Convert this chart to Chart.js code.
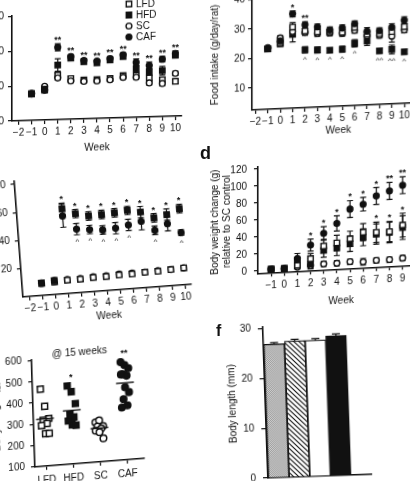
<!DOCTYPE html>
<html lang="en">

<head>
    <meta charset="UTF-8">
    <title>Diet groups: intake, weight gain and body size</title>
    <script src="https://cdn.jsdelivr.net/npm/chart.js"></script>
    <style>
        body {
            margin: 0;
            width: 410px;
            height: 481px;
            overflow: hidden;
            position: relative;
            background: #fff;
            font-family: "Liberation Sans", Arial, sans-serif;
        }

        canvas {
            position: absolute;
        }

        .tag {
            position: absolute;
            font-weight: bold;
            font-size: 18px;
            color: #111;
            z-index: 2;
        }
    </style>
</head>

<body>
    <canvas id="panelA" width="230" height="156"
        style="left:-40px;top:0px;transform-origin:52px 121px;transform:skewY(-1.7deg)"></canvas>
    <canvas id="panelB" width="225" height="156"
        style="left:205px;top:-16px;transform-origin:47px 126px;transform:skewY(-2.5deg)"></canvas>
    <canvas id="panelC" width="240" height="158"
        style="left:-40px;top:170px;transform-origin:63px 127px;transform:rotate(-4.3deg)"></canvas>
    <canvas id="panelD" width="225" height="161"
        style="left:205px;top:150px;transform-origin:53px 123px;transform:skewY(-3deg)"></canvas>
    <canvas id="panelE" width="180" height="160"
        style="left:-20px;top:330px;transform-origin:55px 137px;transform:rotate(-1.8deg) skewY(-2.7deg)"></canvas>
    <canvas id="panelF" width="180" height="186"
        style="left:220px;top:314px;transform-origin:48px 163px;transform:rotate(-2deg)"></canvas>
    <div class="tag" style="left:200px;top:143px">d</div>
    <div class="tag" style="left:216px;top:322px;font-size:16px">f</div>

    <script>
        // weeks on diet and groups
        const weeks = [-1, 0, 1, 2, 3, 4, 5, 6, 7, 8, 9, 10];
        const weekTicks = [-2, -1, 0, 1, 2, 3, 4, 5, 6, 7, 8, 9, 10];
        const groups = ['LFD', 'HFD', 'SC', 'CAF'];

        // a - energy intake
        const energyTicks = [0, 100, 200, 300];
        const energyLFD = [76, 86, 128, 117, 112, 112, 114, 121, 121, 112, 106, 100];
        const energyHFD = [77, 89, 157, 176, 164, 160, 167, 176, 140, 130, 132, 175];
        const energySC = [78, 97, 120, 110, 108, 108, 110, 116, 115, 98, 95, 123];
        const energyCAF = [76, 86, 208, 180, 168, 165, 171, 181, 158, 148, 165, 180];
        const energyErrLFD = [2, 3, 6, 5, 4, 4, 4, 5, 5, 6, 6, 6];
        const energyErrHFD = [2, 3, 18, 6, 5, 5, 5, 6, 10, 10, 12, 6];
        const energyErrSC = [2, 3, 6, 5, 4, 4, 4, 5, 5, 6, 6, 6];
        const energyErrCAF = [2, 3, 10, 6, 6, 5, 6, 6, 10, 10, 8, 8];
        const energyStars = ['', '', '**', '**', '**', '**', '**', '**', '**', '**', '**', '**'];

        // b - food intake (g/day/rat)
        const foodTicks = [10, 20, 30, 40];
        const foodLFD = [23, 24.8, 30, 28.5, 28, 27.8, 27.5, 29, 26.5, 26.5, 27, 28.5];
        const foodHFD = [23, 24.5, 27.5, 22.1, 21.9, 21.6, 21.8, 23.6, 24.2, 20.7, 21, 20];
        const foodSC = [23.4, 26.5, 28.5, 28, 27.5, 27.5, 27.2, 28, 26, 26, 25.5, 27.4];
        const foodCAF = [23.2, 25.5, 34.5, 30.6, 29.7, 28.5, 29, 30.2, 27.5, 27.5, 28.5, 30.7];
        const foodErrLFD = [0.6, 0.8, 1.5, 1, 1, 1, 1, 1, 1.2, 1, 1.2, 1];
        const foodErrHFD = [0.6, 0.8, 2.5, 1, 1, 0.8, 1, 1.2, 1.5, 0.8, 1.5, 0.8];
        const foodErrSC = [0.6, 0.8, 1.5, 1, 1, 1, 1, 1, 1.2, 1, 2, 1];
        const foodErrCAF = [0.6, 0.8, 1, 1, 1, 1, 1, 1, 1.2, 1, 1.2, 1.2];
        const foodStars = ['', '', '*', '**', '', '', '', '', '', '', '', ''];
        const foodCarets = ['', '', '', '^', '^', '^', '^', '^', '', '^^', '^^', '^'];

        // c
        const fatTicks = [20, 40, 60, 80];
        const fatLFD = [8.5, 9, 9.5, 9.5, 10, 10, 10.5, 10.5, 11, 11, 11.5, 12];
        const fatHFD = [9, 10, 60, 56, 53.6, 54, 54.5, 55.5, 53.6, 48.8, 50.5, 54];
        const fatSC = [8.5, 9, 10, 10, 10.5, 10.5, 11, 11, 11, 11.5, 11.5, 12];
        const fatCAF = [9, 10, 55, 45, 44, 43, 43.6, 45.2, 47, 40, 44, 37];
        const fatErrLFD = [0.5, 0.5, 1, 1, 1, 1, 1, 1, 1, 1, 1, 1];
        const fatErrHFD = [1, 1, 4, 3, 3, 3, 3, 3, 4, 3, 4, 3];
        const fatErrSC = [0.5, 0.5, 1, 1, 1, 1, 1, 1, 1, 1, 1, 1];
        const fatErrCAF = [1, 1, 8, 4, 3, 3, 4, 4, 6, 3, 5, 2];
        const fatStars = ['', '', '*', '*', '*', '*', '*', '*', '*', '*', '*', '*'];
        const fatCarets = ['', '', '', '^', '^', '^', '^', '^', '', '^', '', '^'];

        // d - body weight change relative to SC control (weeks -1 to 9)
        const gainTicks = [0, 20, 40, 60, 80, 100, 120];
        const gainWeekTicks = [-1, 0, 1, 2, 3, 4, 5, 6, 7, 8, 9, 10];
        const gainLFD = [1, 1, 4, 11, 25, 28, 32, 39, 38, 38, 45];
        const gainHFD = [1, 1, 8, 5, 20, 22, 26, 33, 36, 37, 42];
        const gainSC = [1, 1, 2, 3, 4, 4, 5, 4, 5, 5, 6];
        const gainCAF = [1, 1, 12, 27, 40, 51, 67, 72, 81, 86, 92];
        const gainErrLFD = [2, 2, 4, 6, 8, 9, 9, 10, 12, 12, 14];
        const gainErrHFD = [2, 2, 4, 6, 8, 9, 9, 10, 12, 12, 14];
        const gainErrSC = [1, 1, 2, 3, 3, 3, 3, 4, 3, 3, 3];
        const gainErrCAF = [2, 2, 6, 7, 8, 9, 10, 8, 10, 10, 10];
        const gainStarsCAF = ['', '', '', '*', '*', '*', '*', '*', '*', '**', '**'];
        const gainStarsLFD = ['', '', '', '', '', '', '', '', '*', '*', '*'];

        // e - body weight at 15 weeks, one value per rat
        const weightTicks = [100, 200, 300, 400, 500, 600];
        const weightLFD = [463, 380, 322, 315, 299, 291, 252, 252];
        const weightHFD = [468, 439, 382, 335, 319, 303, 284, 280];
        const weightSC = [286, 294, 266, 266, 255, 247, 239, 208];
        const weightCAF = [560, 545, 529, 502, 494, 502, 440, 416, 385, 354, 346];
        const weightStars = ['', '*', '', '**'];

        // f - body length
        const lengthTicks = [0, 10, 20, 30];
        const bodyLength = [26.8, 27.3, 27.3, 28.1];
        const bodyLengthErr = [0.3, 0.3, 0.3, 0.3];

        Chart.defaults.font.family = '"Liberation Sans", Arial, sans-serif';
        Chart.defaults.font.size = 10;
        Chart.defaults.color = '#111';
        Chart.defaults.animation = false;

        const ink = '#111';
        const looks = {
            LFD: { pointStyle: 'rect', pointRadius: 3.8, pointBackgroundColor: '#fff' },
            HFD: { pointStyle: 'rect', pointRadius: 3.8, pointBackgroundColor: ink },
            SC: { pointStyle: 'circle', pointRadius: 2.9, pointBackgroundColor: '#fff' },
            CAF: { pointStyle: 'circle', pointRadius: 2.9, pointBackgroundColor: ink }
        };

        function weekSeries(name, values, errors, extra) {
            return Object.assign({
                label: name,
                data: values.map((v, i) => ({ x: weeks[i], y: v })),
                errors: errors,
                pointBorderColor: ink,
                pointBorderWidth: 1.4
            }, looks[name], extra || {});
        }

        // outward ticks, no grid, fixed axis thickness so the plot lands where the figure has it
        function axis(o) {
            return {
                type: 'linear',
                offset: false,
                min: o.min,
                max: o.max,
                afterBuildTicks: s => { s.ticks = o.ticks.map(v => ({ value: v })); },
                afterFit: s => { if (s.isHorizontal()) s.height = o.size; else s.width = o.size; },
                grid: { display: o.marks !== false, offset: false, drawOnChartArea: false, tickLength: o.tick || 4, color: ink, lineWidth: 1.2 },
                border: { display: true, color: ink, width: 1.6 },
                ticks: {
                    display: o.labels !== false,
                    autoSkip: false,
                    maxRotation: 0,
                    padding: o.pad === undefined ? 2 : o.pad,
                    callback: o.fmt || (v => String(v).replace('-', '\u2212'))
                },
                title: {
                    display: !!o.title,
                    text: o.title || '',
                    padding: { top: o.titlePad || 0, bottom: 0 },
                    font: { size: 10 }
                }
            };
        }

        function yValue(raw) {
            return typeof raw === 'object' ? raw.y : raw;
        }

        function drawErrors(chart, onTop) {
            const ctx = chart.ctx;
            chart.data.datasets.forEach((ds, d) => {
                if (!ds.errors || !!ds.errorsOnTop !== onTop) return;
                const meta = chart.getDatasetMeta(d);
                const ys = chart.scales[meta.yAxisID];
                ctx.save();
                ctx.strokeStyle = ink;
                ctx.lineWidth = 1.2;
                meta.data.forEach((pt, i) => {
                    const e = ds.errors[i];
                    if (!e) return;
                    const v = yValue(ds.data[i]);
                    const top = ys.getPixelForValue(v + e);
                    const bot = ys.getPixelForValue(v - e);
                    const cap = ds.capWidth || 3;
                    ctx.beginPath();
                    ctx.moveTo(pt.x, onTop ? pt.y : bot);
                    ctx.lineTo(pt.x, top);
                    ctx.moveTo(pt.x - cap, top);
                    ctx.lineTo(pt.x + cap, top);
                    if (!onTop) {
                        ctx.moveTo(pt.x - cap, bot);
                        ctx.lineTo(pt.x + cap, bot);
                    }
                    ctx.stroke();
                });
                ctx.restore();
            });
        }

        const errorBars = {
            id: 'errorBars',
            beforeDatasetsDraw(chart) { drawErrors(chart, false); },
            afterDatasetsDraw(chart) { drawErrors(chart, true); }
        };

        // asterisks above the error bar, carets below it
        const sigMarks = {
            id: 'sigMarks',
            afterDatasetsDraw(chart) {
                const ctx = chart.ctx;
                ctx.save();
                ctx.fillStyle = ink;
                ctx.textAlign = 'center';
                chart.data.datasets.forEach((ds, d) => {
                    if (!ds.stars && !ds.carets) return;
                    const meta = chart.getDatasetMeta(d);
                    const ys = chart.scales[meta.yAxisID];
                    meta.data.forEach((pt, i) => {
                        const v = yValue(ds.data[i]);
                        const e = ds.errors ? ds.errors[i] : 0;
                        if (ds.stars && ds.stars[i]) {
                            ctx.font = 'bold 9px "Liberation Sans", Arial, sans-serif';
                            ctx.textBaseline = 'alphabetic';
                            ctx.fillText(ds.stars[i], pt.x, ys.getPixelForValue(v + e) - 1);
                        }
                        if (ds.carets && ds.carets[i]) {
                            ctx.font = '8px "Liberation Sans", Arial, sans-serif';
                            ctx.textBaseline = 'top';
                            ctx.fillText(ds.carets[i], pt.x, ys.getPixelForValue(v - e) + 3);
                        }
                    });
                });
                ctx.restore();
            }
        };

        const keyBox = {
            id: 'keyBox',
            afterDraw(chart, args, opts) {
                if (!opts || opts.x === undefined) return;
                const ctx = chart.ctx;
                ctx.save();
                ctx.font = '10px "Liberation Sans", Arial, sans-serif';
                ctx.textBaseline = 'middle';
                ctx.textAlign = 'left';
                groups.forEach((name, k) => {
                    const ds = chart.data.datasets.find(s => s.label === name);
                    const y = opts.y + k * opts.gap;
                    ctx.fillStyle = ds.pointBackgroundColor;
                    ctx.strokeStyle = ink;
                    ctx.lineWidth = 1.4;
                    ctx.beginPath();
                    if (ds.pointStyle === 'rect') {
                        const h = ds.pointRadius * Math.SQRT1_2;
                        ctx.rect(opts.x - h, y - h, 2 * h, 2 * h);
                    } else {
                        ctx.arc(opts.x, y, ds.pointRadius, 0, Math.PI * 2);
                    }
                    ctx.fill();
                    ctx.stroke();
                    ctx.fillStyle = ink;
                    ctx.fillText(name, opts.x + 7, y + 0.5);
                });
                ctx.restore();
            }
        };

        // group means and group stars for the dot plot, plus free text placed by axis values
        const groupMarks = {
            id: 'groupMarks',
            afterDatasetsDraw(chart, args, opts) {
                const ctx = chart.ctx;
                const xs = chart.scales.x, ys = chart.scales.y;
                ctx.save();
                ctx.strokeStyle = ink;
                ctx.fillStyle = ink;
                ctx.textAlign = 'center';
                chart.data.datasets.forEach(ds => {
                    if (ds.center === undefined) return;
                    const vals = ds.data.map(p => p.y);
                    const mean = vals.reduce((a, b) => a + b, 0) / vals.length;
                    const my = ys.getPixelForValue(mean);
                    ctx.lineWidth = 1.4;
                    ctx.beginPath();
                    ctx.moveTo(xs.getPixelForValue(ds.center - 0.33), my);
                    ctx.lineTo(xs.getPixelForValue(ds.center + 0.33), my);
                    ctx.stroke();
                    if (ds.star) {
                        ctx.font = 'bold 9px "Liberation Sans", Arial, sans-serif';
                        ctx.fillText(ds.star, xs.getPixelForValue(ds.center), ys.getPixelForValue(Math.max(...vals)) - 6);
                    }
                });
                (opts.notes || []).forEach(n => {
                    ctx.font = '10px "Liberation Sans", Arial, sans-serif';
                    ctx.textBaseline = 'middle';
                    ctx.fillText(n.text, xs.getPixelForValue(n.x), ys.getPixelForValue(n.y));
                });
                ctx.restore();
            }
        };

        const quiet = { legend: { display: false }, tooltip: { enabled: false } };

        // a
        new Chart(document.getElementById('panelA'), {
            type: 'scatter',
            data: {
                datasets: [
                    weekSeries('CAF', energyCAF, energyErrCAF, { stars: energyStars }),
                    weekSeries('HFD', energyHFD, energyErrHFD),
                    weekSeries('SC', energySC, energyErrSC),
                    weekSeries('LFD', energyLFD, energyErrLFD)
                ]
            },
            options: {
                responsive: false,
                events: [],
                layout: { padding: { top: 16, right: 8, left: 0, bottom: 0 } },
                plugins: Object.assign({ keyBox: { x: 169, y: 7.5, gap: 11 } }, quiet),
                scales: {
                    x: axis({ min: -2.5, max: 10.5, ticks: weekTicks, size: 35, title: 'Week', pad: 2 }),
                    y: axis({ min: 0, max: 302, ticks: energyTicks, size: 52, pad: 4 })
                }
            },
            plugins: [errorBars, sigMarks, keyBox]
        });

        // b
        new Chart(document.getElementById('panelB'), {
            type: 'scatter',
            data: {
                datasets: [
                    weekSeries('CAF', foodCAF, foodErrCAF, { stars: foodStars }),
                    weekSeries('LFD', foodLFD, foodErrLFD),
                    weekSeries('SC', foodSC, foodErrSC),
                    weekSeries('HFD', foodHFD, foodErrHFD, { carets: foodCarets })
                ]
            },
            options: {
                responsive: false,
                events: [],
                layout: { padding: { top: 12.4, right: 0, left: 0, bottom: 0 } },
                plugins: quiet,
                scales: {
                    x: axis({ min: -2.27, max: 11.64, ticks: weekTicks, size: 30, title: 'Week', pad: 2 }),
                    y: axis({ min: 2.5, max: 41, ticks: foodTicks, size: 47, pad: 3, title: 'Food intake (g/day/rat)', titlePad: 4 })
                }
            },
            plugins: [errorBars, sigMarks]
        });

        // c
        new Chart(document.getElementById('panelC'), {
            type: 'scatter',
            data: {
                datasets: [
                    weekSeries('HFD', fatHFD, fatErrHFD, { stars: fatStars }),
                    weekSeries('CAF', fatCAF, fatErrCAF, { carets: fatCarets }),
                    weekSeries('LFD', fatLFD, fatErrLFD),
                    weekSeries('SC', fatSC, fatErrSC)
                ]
            },
            options: {
                responsive: false,
                events: [],
                layout: { padding: { top: 10.2, right: 8, left: 0, bottom: 0 } },
                plugins: quiet,
                scales: {
                    x: axis({ min: -2.5, max: 10.5, ticks: weekTicks, size: 31, title: 'Week', pad: 2 }),
                    y: axis({ min: 0, max: 82, ticks: fatTicks, size: 63, pad: 5 })
                }
            },
            plugins: [errorBars, sigMarks]
        });

        // d
        new Chart(document.getElementById('panelD'), {
            type: 'scatter',
            data: {
                datasets: [
                    weekSeries('CAF', gainCAF, gainErrCAF, { stars: gainStarsCAF }),
                    weekSeries('LFD', gainLFD, gainErrLFD, { stars: gainStarsLFD }),
                    weekSeries('HFD', gainHFD, gainErrHFD),
                    weekSeries('SC', gainSC, gainErrSC)
                ]
            },
            options: {
                responsive: false,
                events: [],
                layout: { padding: { top: 16.5, right: 0, left: 0, bottom: 0 } },
                plugins: quiet,
                scales: {
                    x: axis({ min: -2, max: 10.65, ticks: gainWeekTicks, size: 37.7, title: 'Week', pad: 3 }),
                    y: axis({
                        min: -3, max: 123, ticks: gainTicks, size: 53, pad: 7,
                        title: ['Body weight change (g)', 'relative to SC control'], titlePad: 4
                    })
                }
            },
            plugins: [errorBars, sigMarks]
        });

        // e
        function spread(i) {
            return ((i * 2) % 5 - 2) * 0.07;
        }

        function dotGroup(name, values, g) {
            return Object.assign({
                label: name,
                data: values.map((v, i) => ({ x: g + spread(i), y: v })),
                center: g,
                star: weightStars[g],
                pointBorderColor: ink,
                pointBorderWidth: 1.5
            }, looks[name], { pointRadius: looks[name].pointStyle === 'rect' ? 4.2 : 3.3 });
        }

        new Chart(document.getElementById('panelE'), {
            type: 'scatter',
            data: {
                datasets: [
                    dotGroup('LFD', weightLFD, 0),
                    dotGroup('HFD', weightHFD, 1),
                    dotGroup('SC', weightSC, 2),
                    dotGroup('CAF', weightCAF, 3)
                ]
            },
            options: {
                responsive: false,
                events: [],
                layout: { padding: { top: 30.2, right: 15, left: 0, bottom: 0 } },
                plugins: Object.assign({ groupMarks: { notes: [{ text: '@ 15 weeks', x: 1.35, y: 622 }] } }, quiet),
                scales: {
                    x: axis({ min: -0.43, max: 3.64, ticks: [0, 1, 2, 3], size: 23.3, pad: 5, fmt: v => groups[v] }),
                    y: axis({ min: 100, max: 602, ticks: weightTicks, size: 55, pad: 6, title: 'Body weight (g)', titlePad: 12 })
                }
            },
            plugins: [groupMarks]
        });

        // f
        const fCtx = document.getElementById('panelF').getContext('2d');

        function tile(size, paint) {
            const c = document.createElement('canvas');
            c.width = size;
            c.height = size;
            paint(c.getContext('2d'));
            return fCtx.createPattern(c, 'repeat');
        }

        const stipple = tile(2, g => {
            g.fillStyle = '#d6d6d6';
            g.fillRect(0, 0, 2, 2);
            g.fillStyle = '#959595';
            g.fillRect(0, 0, 1, 1);
            g.fillRect(1, 1, 1, 1);
        });
        const hatch = tile(5, g => {
            g.fillStyle = '#fff';
            g.fillRect(0, 0, 5, 5);
            g.strokeStyle = ink;
            g.lineWidth = 1.1;
            g.beginPath();
            g.moveTo(-1, -1); g.lineTo(6, 6);
            g.moveTo(-1, 4); g.lineTo(1, 6);
            g.moveTo(4, -1); g.lineTo(6, 1);
            g.stroke();
        });

        new Chart(fCtx, {
            type: 'bar',
            data: {
                datasets: [{
                    label: 'Body length',
                    data: bodyLength.map((v, i) => ({ x: i, y: v })),
                    errors: bodyLengthErr,
                    errorsOnTop: true,
                    capWidth: 4,
                    backgroundColor: [stipple, hatch, '#fff', ink],
                    borderColor: ink,
                    borderWidth: 1.2,
                    barPercentage: 1,
                    categoryPercentage: 1
                }]
            },
            options: {
                responsive: false,
                events: [],
                layout: { padding: { top: 12.7, right: 28.3, left: 0, bottom: 0 } },
                plugins: quiet,
                scales: {
                    x: axis({ min: -0.52, max: 4.49, ticks: [0, 1, 2, 3], size: 22, labels: false, marks: false }),
                    y: axis({ min: 0, max: 30.3, ticks: lengthTicks, size: 48, pad: 7, tick: 5, title: 'Body length (mm)', titlePad: 9 })
                }
            },
            plugins: [errorBars]
        });
    </script>
</body>

</html>
